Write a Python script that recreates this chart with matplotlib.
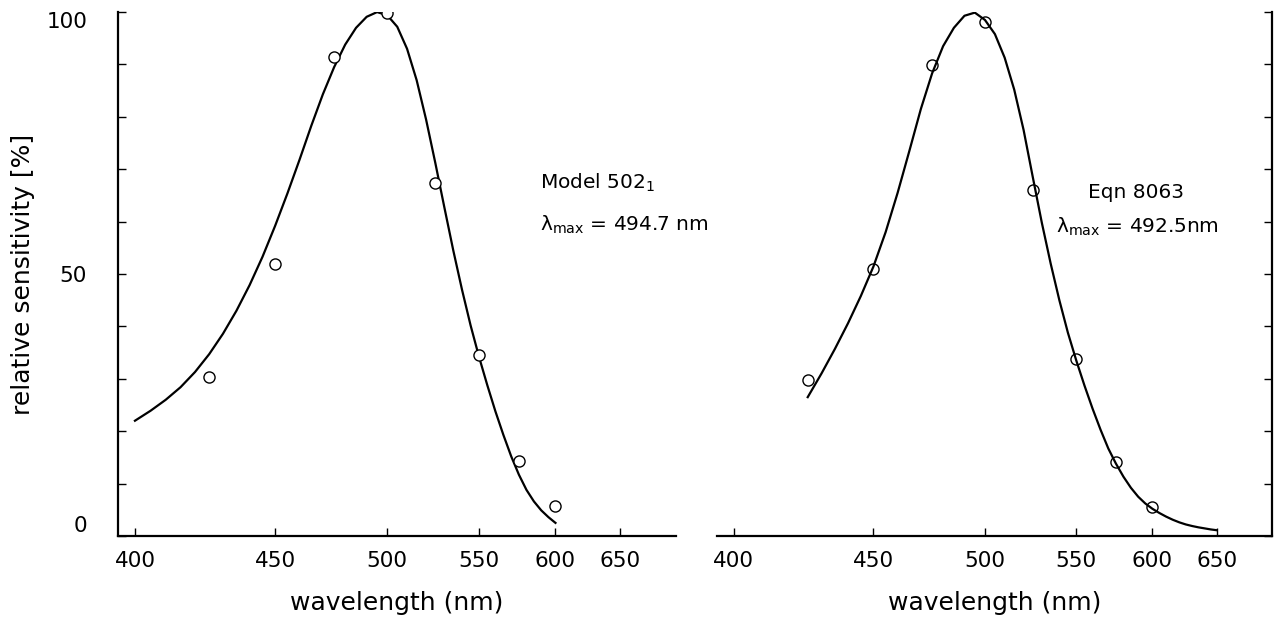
import numpy as np
import matplotlib
matplotlib.use("Agg")
import matplotlib.pyplot as plt

# measured points (both panels use the same wavelengths)
wl_pts = [425, 450, 475, 500, 525, 550, 575, 600]
left_pts = [30.3, 51.9, 91.4, 99.8, 67.4, 34.5, 14.3, 5.7]
right_pts = [29.8, 51.0, 89.9, 98.1, 66.0, 33.8, 14.1, 5.5]

# curves, every 5 nm
left_wl = list(range(400, 605, 5))
left_val = [22.0, 23.9, 26.0, 28.4, 31.3, 34.7, 38.6, 43.0, 47.9, 53.3,
            59.2, 65.4, 71.8, 78.3, 84.3, 89.5, 93.8, 97.0, 99.1, 100.0,
            99.4, 97.2, 93.0, 87.0, 79.5, 71.2, 62.7, 54.5, 47.0, 40.2,
            34.2, 28.8, 23.8, 19.3, 15.2, 11.7, 8.8, 6.6, 4.9, 3.6, 2.5]

right_wl = list(range(425, 655, 5))
right_val = [26.5, 31.0, 35.7, 40.6, 45.8, 51.4, 58.0, 65.5, 73.5, 81.5,
             88.3, 93.5, 97.0, 99.3, 99.9, 98.5, 95.8, 91.3, 85.2, 77.5,
             68.5, 59.8, 52.0, 45.0, 38.8, 33.5, 28.7, 24.3, 20.3, 16.7,
             13.8, 11.3, 9.2, 7.5, 6.2, 5.2, 4.4, 3.7, 3.1, 2.6,
             2.2, 1.9, 1.65, 1.45, 1.25, 1.1]

xticks = [400, 450, 500, 550, 600, 650]
xlim = (394.6, 700)


def fwd(lam):
    # axis is linear in wavenumber
    lam = np.asarray(lam, dtype=float)
    with np.errstate(divide="ignore", invalid="ignore"):
        return -1000.0 / lam


def inv(k):
    k = np.asarray(k, dtype=float)
    with np.errstate(divide="ignore", invalid="ignore"):
        return -1000.0 / k


plt.rcParams["font.family"] = ["DejaVu Sans"]

fig = plt.figure(figsize=(12.75, 6.2), dpi=100)
ax1 = fig.add_axes([0.0923, 0.1355, 0.4376, 0.845])
ax2 = fig.add_axes([0.5621, 0.1355, 0.4355, 0.845])

for ax in (ax1, ax2):
    ax.set_xscale("function", functions=(fwd, inv))
    ax.set_xlim(*xlim)
    ax.set_ylim(0, 100)
    ax.set_xticks(xticks)
    ax.set_xticklabels([str(t) for t in xticks])
    ax.set_yticks([0, 50, 100])
    ax.set_yticks(np.arange(10, 100, 10), minor=True)
    ax.tick_params(axis="both", which="both", direction="in", length=6,
                   width=1.0, labelsize=15.5, pad=11)
    ax.spines["top"].set_visible(False)
    for s in ax.spines.values():
        s.set_linewidth(1.6)
    ax.set_xlabel("wavelength (nm)", fontsize=18, labelpad=14)

ax1.spines["right"].set_visible(False)
ax2.spines["left"].set_visible(False)
ax2.yaxis.tick_right()
ax2.tick_params(axis="y", which="both", labelright=False)

ax1.tick_params(axis="y", pad=22)
ylabs = ax1.get_yticklabels()
ylabs[0].set_va("bottom")
ylabs[-1].set_va("top")
ax1.set_ylabel("relative sensitivity [%]", fontsize=18, labelpad=8)

ax1.plot(left_wl, left_val, color="black", lw=1.6)
ax1.plot(wl_pts, left_pts, "o", mfc="white", mec="black", ms=8, mew=1.0)
ax2.plot(right_wl, right_val, color="black", lw=1.6)
ax2.plot(wl_pts, right_pts, "o", mfc="none", mec="black", ms=8, mew=1.0)

ax1.text(0.757, 0.674, "Model 502$_1$", transform=ax1.transAxes,
         fontsize=14.5, va="center")
ax1.text(0.757, 0.594, r"λ$_{\mathrm{max}}$ = 494.7 nm", transform=ax1.transAxes,
         fontsize=14.5, va="center")
ax2.text(0.669, 0.655, "Eqn 8063", transform=ax2.transAxes,
         fontsize=14.5, va="center")
ax2.text(0.611, 0.59, r"λ$_{\mathrm{max}}$ = 492.5nm", transform=ax2.transAxes,
         fontsize=14.5, va="center")

fig.savefig("out.png", dpi=100)
